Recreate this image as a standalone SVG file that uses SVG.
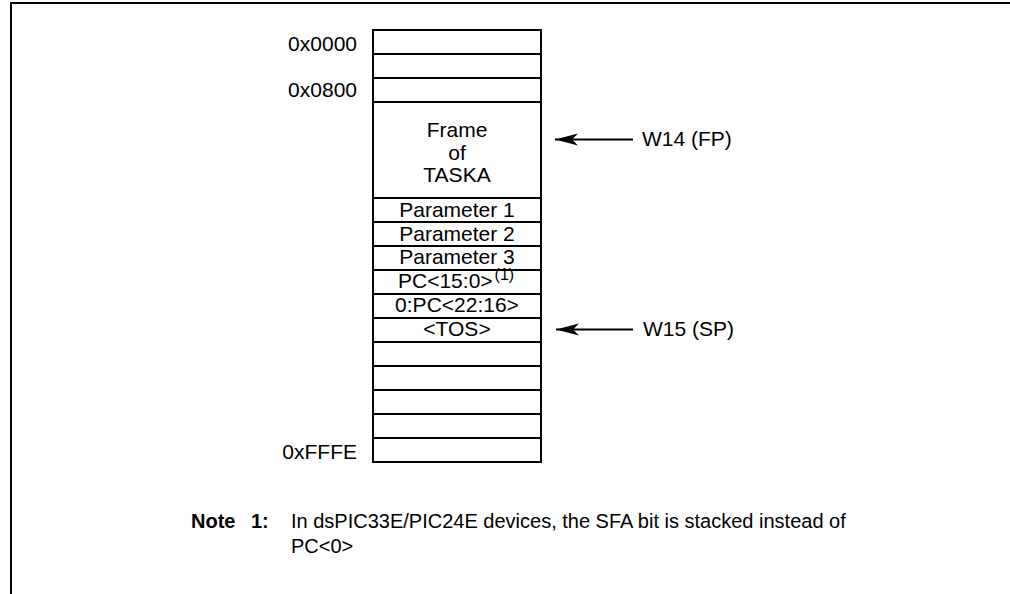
<svg xmlns="http://www.w3.org/2000/svg" width="1010" height="594" viewBox="0 0 1010 594">
<style>
.t{font-family:"Liberation Sans",Arial,sans-serif;font-size:21px;fill:#000}
.c{text-anchor:middle}
.r{text-anchor:end}
.n{font-family:"Liberation Sans",Arial,sans-serif;font-size:20px;fill:#000}
.b{font-weight:bold}
.cell{fill:#fff;stroke:#000;stroke-width:2}
.ln{stroke:#000;stroke-width:2;fill:none}
</style>
<defs>
<marker id="ah" viewBox="0 0 24 14" refX="23" refY="7" markerWidth="24" markerHeight="14" markerUnits="userSpaceOnUse" orient="auto">
<path d="M23,7 L0,1 L6,7 L0,13 Z" fill="#000"/>
</marker>
</defs>
<rect width="1010" height="594" fill="#fff"/>
<g id="border">
<path class="ln" d="M11,594 V3 H1010"/>
</g>
<g id="stack">
<rect class="cell" x="373" y="30" width="168" height="24"/>
<rect class="cell" x="373" y="54" width="168" height="24"/>
<rect class="cell" x="373" y="78" width="168" height="24"/>
<rect class="cell" x="373" y="102" width="168" height="96"/>
<rect class="cell" x="373" y="198" width="168" height="24"/>
<rect class="cell" x="373" y="222" width="168" height="24"/>
<rect class="cell" x="373" y="246" width="168" height="24"/>
<rect class="cell" x="373" y="270" width="168" height="24"/>
<rect class="cell" x="373" y="294" width="168" height="24"/>
<rect class="cell" x="373" y="318" width="168" height="24"/>
<rect class="cell" x="373" y="342" width="168" height="24"/>
<rect class="cell" x="373" y="366" width="168" height="24"/>
<rect class="cell" x="373" y="390" width="168" height="24"/>
<rect class="cell" x="373" y="414" width="168" height="24"/>
<rect class="cell" x="373" y="438" width="168" height="24"/>
</g>
<g id="frame">
<text class="t c" x="457" y="137">Frame</text>
<text class="t c" x="457" y="160">of</text>
<text class="t c" x="457" y="182">TASKA</text>
</g>
<g id="params">
<text class="t c" x="457" y="217">Parameter 1</text>
<text class="t c" x="457" y="241">Parameter 2</text>
<text class="t c" x="457" y="264">Parameter 3</text>
<text class="t" x="398" y="288">PC&lt;15:0&gt;<tspan font-size="16" dx="2" dy="-8">(1)</tspan></text>
<text class="t c" x="457" y="312">0:PC&lt;22:16&gt;</text>
<text class="t c" x="457" y="336">&lt;TOS&gt;</text>
</g>
<g id="addresses">
<text class="t r" x="357" y="51">0x0000</text>
<text class="t r" x="357" y="97">0x0800</text>
<text class="t r" x="357" y="459">0xFFFE</text>
</g>
<g id="connectors">
<line class="ln" x1="633" y1="139.5" x2="555" y2="139.5" marker-end="url(#ah)"/>
<line class="ln" x1="633" y1="329.5" x2="556" y2="329.5" marker-end="url(#ah)"/>
</g>
<g id="pointers">
<text class="t" x="642" y="146">W14 (FP)</text>
<text class="t" x="643" y="336">W15 (SP)</text>
</g>
<g id="note">
<text class="n b" x="191" y="528">Note</text>
<text class="n b" x="251" y="528">1:</text>
<text class="n" x="291" y="528">In dsPIC33E/PIC24E devices, the SFA bit is stacked instead of</text>
<text class="n" x="291" y="553">PC&lt;0&gt;</text>
</g>
</svg>
